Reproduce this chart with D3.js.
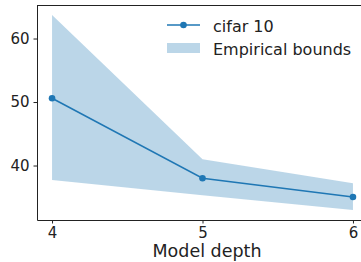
<!DOCTYPE html>
<html><head><meta charset="utf-8">
<script src="https://cdn.jsdelivr.net/npm/d3@7"></script>
<style>html,body{margin:0;padding:0;background:#fff;overflow:hidden}</style>
</head><body>
<svg id="c" width="361" height="262"></svg>
<script>
const depths = [4, 5, 6];
const cifar10 = [50.6, 38.0, 35.05];
const upperBound = [63.7, 41.0, 37.2];
const lowerBound = [37.7, 35.3, 33.0];
const yTicks = [40, 50, 60];
const xTicks = [4, 5, 6];
const seriesLabel = "cifar 10";
const bandLabel = "Empirical bounds";
const xLabel = "Model depth";

const blue = "#1f77b4";
const bandColor = "rgba(31,119,180,0.3)";
const font = "DejaVu Sans, sans-serif";
const svg = d3.select("#c");
const m = {l: 37, t: 5, r: 368, b: 220};
const x = d3.scaleLinear().domain([3.9, 6.1]).range([m.l, m.r]);
const y = d3.scaleLinear().domain([31.42, 65.28]).range([m.b, m.t]);

const data = depths.map((d, i) => ({d, v: cifar10[i], hi: upperBound[i], lo: lowerBound[i]}));

svg.append("path").datum(data)
  .attr("d", d3.area().x(p => x(p.d)).y0(p => y(p.lo)).y1(p => y(p.hi)))
  .attr("fill", bandColor);

svg.append("path").datum(data)
  .attr("d", d3.line().x(p => x(p.d)).y(p => y(p.v)))
  .attr("fill", "none").attr("stroke", blue).attr("stroke-width", 1.5);

svg.selectAll("circle.pt").data(data).enter().append("circle")
  .attr("cx", p => x(p.d)).attr("cy", p => y(p.v)).attr("r", 3.3).attr("fill", blue);

// axes
const xAxis = svg.append("g").attr("transform", `translate(0,${m.b})`)
  .call(d3.axisBottom(x).tickValues(xTicks).tickSize(3.5).tickSizeOuter(0).tickFormat(d3.format("d")));
const yAxis = svg.append("g").attr("transform", `translate(${m.l},0)`)
  .call(d3.axisLeft(y).tickValues(yTicks).tickSize(3.5).tickSizeOuter(0).tickFormat(d3.format("d")));
[xAxis, yAxis].forEach(a => {
  a.select(".domain").attr("stroke", "#222").attr("stroke-width", 1);
  a.selectAll(".tick line").attr("stroke", "#222").attr("stroke-width", 1);
  a.selectAll("text").attr("font-family", font).attr("font-size", 15).attr("fill", "#222");
});
xAxis.selectAll("text").attr("dy", "0.71em").attr("y", 7.5);
yAxis.selectAll("text").attr("x", -7.5);
// top spine
svg.append("line").attr("x1", m.l).attr("x2", m.r).attr("y1", m.t + 0.5).attr("y2", m.t + 0.5)
  .attr("stroke", "#222").attr("stroke-width", 1);

svg.append("text").attr("x", 207).attr("y", 257)
  .attr("text-anchor", "middle").attr("font-family", font).attr("font-size", 17.5).attr("fill", "#222")
  .text(xLabel);

// legend
const lg = svg.append("g");
lg.append("line").attr("x1", 167).attr("x2", 200).attr("y1", 25).attr("y2", 25)
  .attr("stroke", blue).attr("stroke-width", 1.5);
lg.append("circle").attr("cx", 183.5).attr("cy", 25).attr("r", 3.3).attr("fill", blue);
lg.append("rect").attr("x", 167).attr("y", 43).attr("width", 33).attr("height", 10).attr("fill", bandColor);
lg.append("text").attr("x", 213).attr("y", 31.5).attr("font-family", font).attr("font-size", 16)
  .attr("fill", "#222").text(seriesLabel);
lg.append("text").attr("x", 213).attr("y", 54.5).attr("font-family", font).attr("font-size", 16)
  .attr("fill", "#222").text(bandLabel);
</script>
</body></html>
